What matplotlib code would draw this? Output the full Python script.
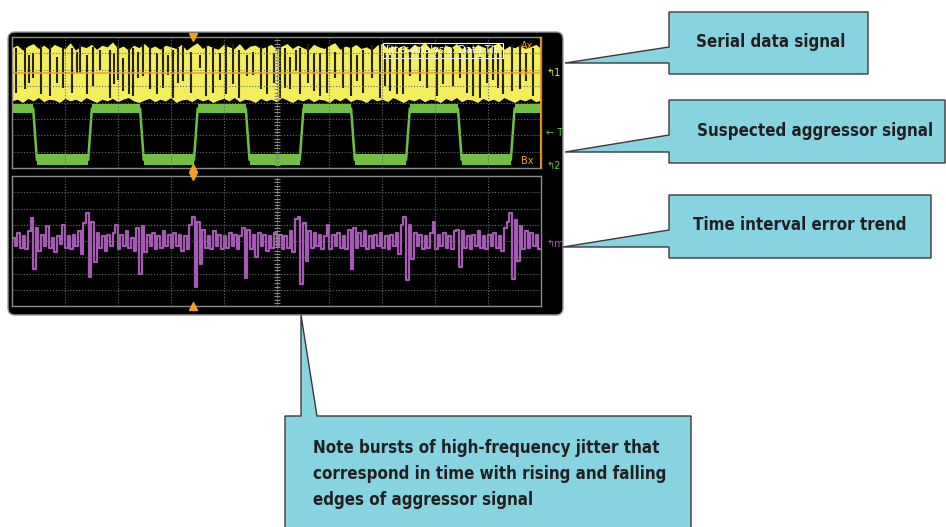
import matplotlib
matplotlib.use('Agg')
import matplotlib.pyplot as plt
import numpy as np
from matplotlib import font_manager as fm
from matplotlib.patches import FancyBboxPatch, Polygon

# ---- data (units: divisions) ----
# serial data (yellow) envelope, one value every 0.1 div
yellow_top = [3.35, 3.5, 3.2, 3.45, 3.6, 3.3, 3.5, 3.25, 3.55, 3.4,
              3.3, 3.65, 3.2, 3.45, 3.35, 3.55, 3.25, 3.5, 3.4, 3.7,
              3.3, 3.45, 3.2, 3.5, 3.35, 3.6, 3.3, 3.45, 3.25, 3.5,
              3.4, 3.3, 3.55, 3.2, 3.45, 3.65, 3.3, 3.5, 3.35, 3.25,
              3.55, 3.4, 3.3, 3.6, 3.2, 3.45, 3.5, 3.3, 3.4, 3.55,
              3.25, 3.45, 3.6, 3.3, 3.5, 3.35, 3.2, 3.55, 3.4, 3.3,
              3.5, 3.65, 3.25, 3.45, 3.35, 3.55, 3.3, 3.4, 3.2, 3.5,
              3.6, 3.3, 3.45, 3.35, 3.5, 3.25, 3.55, 3.4, 3.7, 3.3,
              3.45, 3.2, 3.5, 3.35, 3.6, 3.3, 3.45, 3.25, 3.55, 3.4,
              3.3, 3.5, 3.65, 3.25, 3.45, 3.35, 3.5, 3.3, 3.4, 3.55, 3.3]
yellow_bot = [0.1, 0.2, 0.0, 0.25, 0.1, 0.3, 0.05, 0.2, 0.15, 0.0,
              0.25, 0.1, 0.2, 0.05, 0.3, 0.15, 0.0, 0.2, 0.1, 0.25,
              0.05, 0.2, 0.3, 0.1, 0.0, 0.15, 0.25, 0.05, 0.2, 0.1,
              0.3, 0.0, 0.15, 0.2, 0.05, 0.25, 0.1, 0.2, 0.0, 0.15,
              0.25, 0.1, 0.3, 0.05, 0.2, 0.15, 0.0, 0.25, 0.1, 0.2,
              0.05, 0.3, 0.15, 0.0, 0.2, 0.1, 0.25, 0.05, 0.2, 0.15,
              0.0, 0.25, 0.1, 0.3, 0.05, 0.2, 0.15, 0.0, 0.25, 0.1,
              0.2, 0.05, 0.3, 0.15, 0.0, 0.2, 0.1, 0.25, 0.05, 0.2,
              0.15, 0.0, 0.25, 0.1, 0.3, 0.05, 0.2, 0.15, 0.0, 0.25,
              0.1, 0.2, 0.05, 0.3, 0.15, 0.0, 0.2, 0.1, 0.25, 0.05, 0.15]
# dark gaps inside the serial data band
gap_x = [0.08, 0.25, 0.33, 0.40, 0.55, 0.72, 0.85, 0.97, 1.13, 1.22,
         1.29, 1.42, 1.53, 1.66, 1.85, 1.93, 2.00, 2.10, 2.21, 2.29,
         2.38, 2.48, 2.61, 2.74, 2.85, 2.95, 3.04, 3.14, 3.23, 3.38,
         3.55, 3.66, 3.80, 3.93, 4.05, 4.18, 4.30, 4.45, 4.56, 4.70,
         4.82, 4.95, 5.07, 5.16, 5.25, 5.36, 5.44, 5.60, 5.71, 5.82,
         5.95, 6.10, 6.26, 6.40, 6.52, 6.64, 6.80, 6.96, 7.05, 7.15,
         7.27, 7.39, 7.52, 7.71, 7.85, 8.03, 8.15, 8.34, 8.47, 8.60,
         8.72, 8.85, 8.97, 9.09, 9.18, 9.28, 9.45, 9.60, 9.72, 9.85]
gap_top = [3.3, 3.4, 2.9, 3.0, 3.5, 3.5, 2.8, 3.3, 3.3, 3.1,
           3.6, 2.9, 3.4, 3.2, 3.2, 3.0, 3.5, 2.7, 3.3, 3.3,
           3.1, 3.6, 3.4, 3.0, 3.4, 2.9, 3.2, 3.3, 3.5, 3.1,
           2.9, 3.4, 3.3, 3.0, 3.5, 3.6, 3.2, 2.9, 3.1, 3.4,
           3.4, 3.0, 3.5, 3.3, 2.8, 3.2, 3.3, 3.6, 3.0, 3.0,
           3.4, 3.1, 3.4, 3.3, 2.9, 3.2, 3.5, 3.5, 3.0, 2.9,
           3.3, 3.4, 3.1, 3.6, 3.2, 3.1, 3.4, 3.3, 3.0, 3.5,
           3.2, 2.8, 3.4, 3.4, 3.1, 3.2, 3.5, 3.5, 3.0, 3.3]
gap_bot = [0.6, 0.8, 1.2, 1.5, 0.5, 0.4, 1.2, 0.9, 0.6, 1.8,
           1.8, 0.5, 1.0, 2.0, 0.3, 1.1, 1.4, 0.7, 0.5, 0.4,
           1.5, 1.6, 0.8, 0.5, 0.9, 1.7, 0.3, 1.2, 1.3, 0.6,
           2.1, 0.4, 0.6, 1.4, 0.5, 1.1, 0.3, 1.6, 1.7, 0.8,
           0.5, 1.2, 0.3, 0.9, 0.8, 1.9, 0.5, 1.2, 0.7, 0.4,
           0.6, 1.5, 0.9, 0.4, 1.3, 0.6, 1.5, 0.3, 1.0, 0.7,
           0.5, 0.5, 1.6, 1.3, 0.9, 0.4, 1.1, 1.0, 1.5, 0.6,
           0.4, 0.3, 1.2, 1.4, 0.9, 0.5, 0.7, 0.8, 1.3, 0.4]
orange_level = 1.8

# aggressor (green) square wave: edge times, levels, band half-widths
green_edges = [0.40, 1.44, 2.42, 3.44, 4.42, 5.44, 6.41, 7.45, 8.43, 9.43]
green_high = -0.37
green_low = -3.5
green_band_high = 0.26
green_band_low = 0.34

# time interval error trend (purple), one value every 0.05 div
tie = [
    0.2, -0.3, 0.5, -0.4, 0.3, -0.5, 0.6, 1.4, -1.75, 0.8, -0.6, 0.4, -0.3, 0.9, -0.4, 0.2, -0.7, 0.3, -0.2, 1.0,
    -0.4, 0.3, -0.5, 0.4, -0.3, 0.6, -0.8, 1.1, 1.7, -2.2, 1.2, -1.3, 0.5, -0.4, 0.3, -0.6, 0.4, -0.3, 0.5, 1.0,
    -0.5, 0.4, -0.3, 0.6, -0.4, 0.2, -0.6, 0.8, -2.0, 0.9, -0.7, 0.4, -0.3, 0.5, -0.5, 0.3, -0.4, 0.6, -0.3, 0.4,
    -0.4, 0.5, -0.3, 0.4, -0.6, 0.3, -0.5, 1.0, 1.45, -2.8, 1.2, -1.4, 0.7, -0.4, 0.3, -0.5, 0.6, -0.3, 0.4, -0.5,
    0.3, -0.4, 0.5, -0.3, 0.4, -0.5, 0.3, 0.8, -2.25, 0.7, -0.5, 0.4, -1.0, 0.5, -0.3, 0.4, -0.6, 0.3, -0.4, 0.5,
    -0.3, 0.4, -0.5, 0.3, -0.4, 0.6, -0.7, 1.35, 1.5, -2.65, 1.1, -1.2, 0.6, -0.4, 0.5, -0.3, 0.4, -0.5, 0.3, 1.0,
    -0.5, 0.4, -0.3, 0.5, -0.4, 0.3, -0.5, 0.7, -1.75, 0.8, -0.4, 0.5, -0.3, 0.6, -0.5, 0.3, -0.4, 0.4, -0.3, 0.5,
    -0.4, 0.3, -0.5, 0.4, -0.3, 0.5, -0.8, 1.0, 1.45, -2.4, 1.0, -1.1, 0.5, -0.3, 0.4, -0.5, 0.3, -0.4, 0.5, 1.15,
    -0.5, 0.4, -0.3, 0.5, -0.4, 0.3, -0.5, 0.6, 0.7, -1.6, 0.6, -0.4, 0.3, -0.5, 0.4, -0.3, 0.6, -0.4, 0.3, -0.5,
    0.4, -0.3, 0.5, -0.4, 0.3, -0.6, 0.8, 1.2, 1.7, -2.35, 1.3, -1.2, 0.9, -0.5, 0.6, -0.4, 0.5, -0.3, 0.4, -0.5,
]
trigger_x = 3.42

# callout texts
callout_serial = 'Serial data signal'
callout_aggr = 'Suspected aggressor signal'
callout_tie = 'Time interval error trend'
callout_note = ('Note bursts of high-frequency jitter that\n'
                'correspond in time with rising and falling\n'
                'edges of aggressor signal')

W, H = 946, 527
YELLOW = '#f4ee5c'
GREEN = '#72c043'
PURPLE = '#a65ab6'
ORANGE = '#f0a020'
BOXC = '#88d3e0'
INK = '#231f20'


def pick_font():
    # a condensed bold face if one is installed, else Liberation Sans bold
    best = None
    for f in fm.fontManager.ttflist:
        w = f.weight if isinstance(f.weight, int) else fm.weight_dict.get(f.weight, 400)
        narrow = ('Narrow' in f.name or 'Condensed' in f.name or 'condensed' in str(f.stretch)
                  or 'Condensed' in f.fname or 'Narrow' in f.fname)
        if narrow and w >= 600 and 'Oblique' not in f.fname and 'Italic' not in f.fname:
            if best is None or 'Liberation' in f.name:
                best = f
    if best is not None:
        return fm.FontProperties(fname=best.fname)
    return fm.FontProperties(family=['Liberation Sans', 'DejaVu Sans'], weight='bold')


fig = plt.figure(figsize=(W / 100, H / 100), dpi=100, facecolor='white')

# scope frame (figure pixel space)
under = fig.add_axes([0, 0, 1, 1], zorder=0)
under.set_xlim(0, W)
under.set_ylim(H, 0)
under.axis('off')
under.add_patch(FancyBboxPatch((8, 32), 555, 283, boxstyle='round,pad=0,rounding_size=7',
                               facecolor='black', edgecolor='#9a9a9a', lw=1.0))


def panel(rect):
    ax = fig.add_axes(rect, zorder=1)
    ax.set_facecolor('black')
    ax.set_xlim(0, 10)
    ax.set_ylim(-4, 4)
    ax.set_xticks([])
    ax.set_yticks([])
    for s in ax.spines.values():
        s.set_color('#8c8c8c')
        s.set_linewidth(1.0)
        s.set_zorder(8)
    for i in range(1, 10):
        ax.axvline(i, color='#6a6a6a', lw=0.8, ls=(0, (1, 1.6)), zorder=5)
    for j in range(-3, 4):
        ax.axhline(j, color='#6a6a6a', lw=0.8, ls=(0, (1, 1.6)), zorder=5)
    ticks = np.arange(-3.8, 3.9, 0.2)
    ax.plot([5] * len(ticks), ticks, ls='none', marker='_', ms=5, mew=0.8, color='#8a8a8a', zorder=5)
    ax.axvline(5, color='#8a8a8a', lw=0.6, ls=(0, (1, 1.6)), zorder=5)
    ax.plot([trigger_x], [4], marker='v', ms=6, color=ORANGE, clip_on=False, zorder=9)
    ax.plot([trigger_x], [-4], marker='^', ms=6, color=ORANGE, clip_on=False, zorder=9)
    return ax


ax1 = panel([12 / W, 1 - 168 / H, 529 / W, 131 / H])
ax2 = panel([12 / W, 1 - 306 / H, 529 / W, 130 / H])

# serial data
xe = np.linspace(0, 10, len(yellow_top))
ax1.fill_between(xe, yellow_bot, yellow_top, color=YELLOW, lw=0, zorder=2)
ax1.vlines(gap_x, gap_bot, gap_top, color='#22220a', lw=1.5, zorder=3)
ax1.axhline(orange_level, color=ORANGE, lw=1.2, alpha=0.9, zorder=4)
ax1.axvline(10, color=ORANGE, lw=1.5, zorder=9)

# aggressor square wave
rt = 0.07
xs, ys = [0], [green_high]
lvl = green_high
seg_start = 0
for e in green_edges:
    band = green_band_high if lvl == green_high else green_band_low
    ax1.fill_between([seg_start, e], lvl - band, lvl + band, color=GREEN, lw=0, zorder=3)
    new = green_low if lvl == green_high else green_high
    xs += [e, e + rt]
    ys += [lvl, new]
    lvl = new
    seg_start = e + rt
band = green_band_high if lvl == green_high else green_band_low
ax1.fill_between([seg_start, 10], lvl - band, lvl + band, color=GREEN, lw=0, zorder=3)
xs.append(10)
ys.append(lvl)
ax1.plot(xs, ys, color=GREEN, lw=1.8, zorder=3)

# TIE trend
xt = (np.arange(len(tie)) + 0.5) * (10 / len(tie))
ax2.step(xt, tie, where='mid', color=PURPLE, lw=1.6, zorder=3)

# on-screen labels
ax1.text(0.985, 0.93, 'Ax', transform=ax1.transAxes, color=ORANGE, fontsize=7, ha='right', va='center', zorder=9)
ax1.text(0.985, 0.05, 'Bx', transform=ax1.transAxes, color=ORANGE, fontsize=7, ha='right', va='center', zorder=9)
ax1.text(0.985, (orange_level + 4) / 8, 'By', transform=ax1.transAxes, color=ORANGE, fontsize=7,
         ha='right', va='center', alpha=0.5, zorder=9)
ax1.text(0.815, 0.9, 'Jitter Analysis: Data TIE', transform=ax1.transAxes, color='white', fontsize=7,
         ha='center', va='center', zorder=9,
         bbox=dict(facecolor='none', edgecolor='white', lw=0.8, boxstyle='square,pad=0.25'))

over = fig.add_axes([0, 0, 1, 1], zorder=5)
over.set_xlim(0, W)
over.set_ylim(H, 0)
over.axis('off')
over.patch.set_alpha(0)
over.text(546, 73, '\u21b01', color='#e8e060', fontsize=7, va='center')
over.text(546, 133, '\u2190 T', color=GREEN, fontsize=7, va='center')
over.text(546, 166, '\u21b02', color=GREEN, fontsize=7, va='center')
over.text(546, 244, '\u21b0m', color=PURPLE, fontsize=7, va='center')

# callouts
fp = pick_font()
renderer = fig.canvas.get_renderer()
probe = over.text(0, 0, 'correspond in time with rising and falling', fontproperties=fp, fontsize=10)
size = 10 * 352 / probe.get_window_extent(renderer).width
probe.remove()


def callout(pts, text, tx, ty, ha='center', ls=1.0):
    over.add_patch(Polygon(pts, closed=True, facecolor=BOXC, edgecolor='#3a3a3a', lw=1.0, zorder=6))
    over.text(tx, ty, text, ha=ha, va='center', color=INK, fontproperties=fp, fontsize=size,
              linespacing=ls, zorder=7)


callout([(669, 12), (868, 12), (868, 74), (669, 74), (669, 63), (565, 63), (669, 47)],
        callout_serial, 771, 42)
callout([(669, 100), (945, 100), (945, 163), (669, 163), (669, 152), (565, 152), (669, 135)],
        callout_aggr, 815, 131)
callout([(669, 195), (931, 195), (931, 258), (669, 258), (669, 247), (563, 247), (669, 230)],
        callout_tie, 800, 225)
callout([(285, 416), (301, 416), (301, 315), (317, 416), (691, 416), (691, 530), (285, 530)],
        callout_note, 313, 474, ha='left', ls=1.55)

fig.savefig('out.png', dpi=100, facecolor='white')
